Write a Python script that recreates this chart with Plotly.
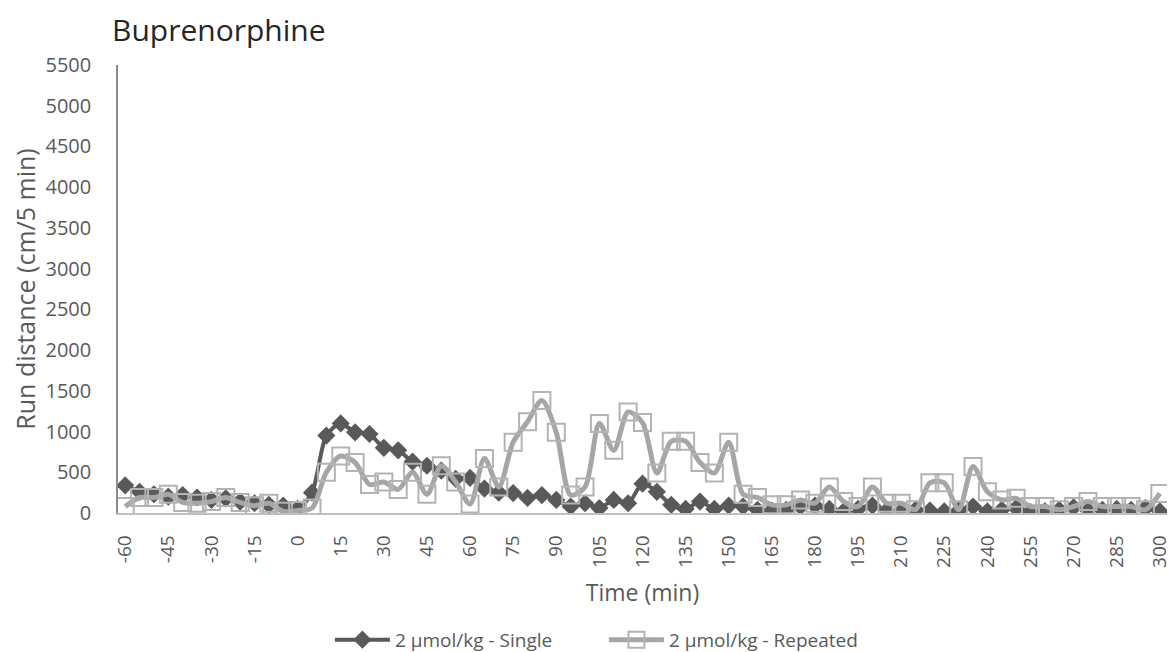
import plotly.graph_objects as go

time_min = list(range(-60, 305, 5))
tick_vals = list(range(-60, 305, 15))
tick_text = [str(v) for v in tick_vals]
y_ticks = list(range(0, 5501, 500))

single = [340, 260, 230, 200, 220, 190, 160, 180, 140, 120, 100, 90, 50,
          250, 950, 1100, 990, 970, 800, 770, 630, 580, 520, 420, 430, 300,
          250, 245, 185, 220, 160, 80, 120, 60, 160, 120, 360, 260, 100, 50,
          140, 50, 90, 80, 40, 30, 40, 80, 90, 50, 20, 50, 90, 30, 20, 40,
          30, 20, 30, 80, 20, 40, 60, 10, 20, 40, 70, 30, 40, 50, 40, 60, 20]

repeated = [80, 190, 190, 230, 130, 120, 140, 190, 130, 90, 120, 20, 30,
            60, 500, 700, 620, 350, 380, 290, 500, 230, 580, 380, 110, 670,
            320, 870, 1120, 1380, 990, 220, 320, 1100, 770, 1240, 1110, 490,
            880, 880, 620, 490, 870, 230, 190, 100, 100, 160, 120, 320, 140,
            80, 320, 120, 120, 40, 370, 370, 40, 570, 260, 160, 180, 80, 80,
            40, 80, 140, 80, 80, 80, 40, 240]

font_family = "Open Sans, Liberation Sans, sans-serif"

# The page has an 8px body margin, so the figure is sized to fit the window.
W, H = 1168, 644

fig = go.Figure()
fig.add_trace(go.Scatter(
    x=time_min, y=single, mode="lines+markers",
    name="2 \u00b5mol/kg - Single",
    line=dict(color="#595959", width=4, shape="spline", smoothing=0.8),
    marker=dict(symbol="diamond", size=14, color="#595959"),
))
fig.add_trace(go.Scatter(
    x=time_min, y=repeated, mode="lines+markers",
    name="2 \u00b5mol/kg - Repeated",
    line=dict(color="#A6A6A6", width=5, shape="spline", smoothing=0.8),
    marker=dict(symbol="square-open", size=17, color="#B3B3B3",
                line=dict(width=2, color="#B3B3B3")),
))

fig.update_layout(
    width=W, height=H,
    paper_bgcolor="white", plot_bgcolor="white",
    margin=dict(l=110, r=9, t=57, b=139, autoexpand=False),
    font=dict(family=font_family, color="#595959", size=20),
    title=dict(text="Buprenorphine", x=104 / W, xanchor="left",
               y=1 - 22 / H, yanchor="middle",
               font=dict(size=30, color="#262626", family=font_family)),
    xaxis=dict(
        range=[-62.5, 302.5], tickmode="array", tickvals=tick_vals,
        ticktext=tick_text, tickangle=-90, showgrid=False, zeroline=False,
        showline=True, linecolor="#BFBFBF", linewidth=1.5,
        ticks="outside", ticklen=13, tickcolor="rgba(0,0,0,0)",
        tickfont=dict(size=19, color="#595959"), automargin=False,
        title=dict(text="Time (min)", font=dict(size=23, color="#595959"),
                   standoff=18),
    ),
    yaxis=dict(
        range=[0, 5500], tickmode="array", tickvals=y_ticks,
        showgrid=False, zeroline=False, showline=True, linecolor="#8C8C8C",
        linewidth=1.5, ticks="outside", ticklen=21,
        tickcolor="rgba(0,0,0,0)", tickfont=dict(size=20, color="#595959"),
        automargin=False,
        title=dict(text="Run distance (cm/5 min)",
                   font=dict(size=25, color="#595959"), standoff=16),
    ),
    legend=dict(orientation="h", x=0.202, xanchor="left", y=-0.283,
                yanchor="middle", font=dict(size=19, color="#595959"),
                itemwidth=55, entrywidth=204),
    showlegend=True,
)

fig.write_html("out.html")
